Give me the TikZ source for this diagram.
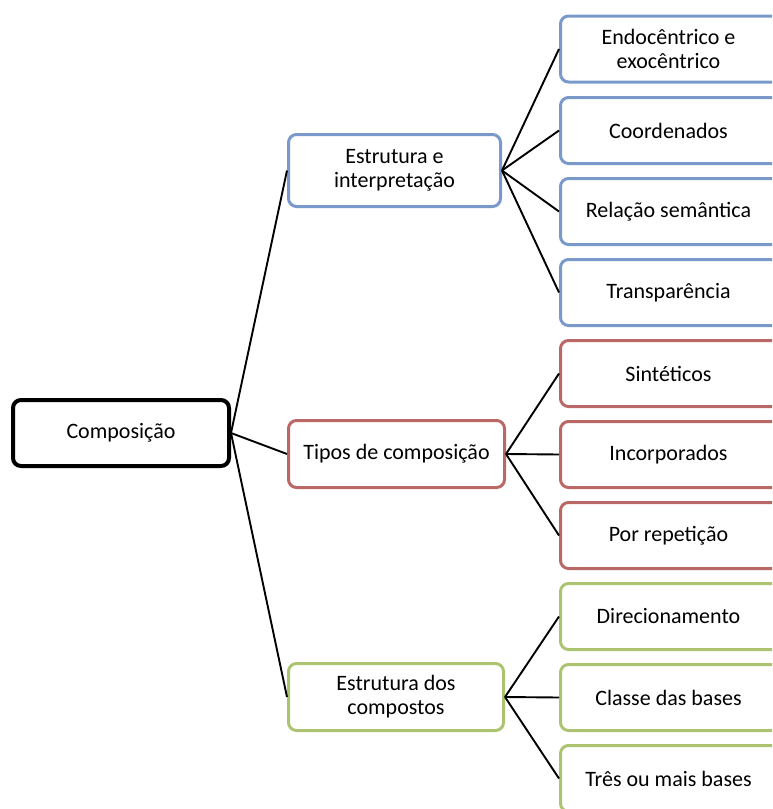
\documentclass[tikz,border=0pt]{standalone}
\usepackage{fontspec}
\setmainfont{Carlito}
\definecolor{bblue}{RGB}{122,153,203}
\definecolor{bred}{RGB}{186,104,102}
\definecolor{bgreen}{RGB}{172,196,112}
\newcommand\pad{\hspace*{40pt}}
\begin{document}
\begin{tikzpicture}[x=1pt,y=-1pt,
  box/.style={draw, fill=white, rounded corners=8pt, line width=3pt, align=center,
    font=\fontsize{22}{24}\selectfont, inner sep=2pt},
  rootbox/.style={box, draw=black, line width=4pt, minimum width=216pt, minimum height=66pt},
  lone/.style={box, minimum width=212pt, minimum height=67pt},
  ltwo/.style={box, anchor=west, minimum width=256pt, minimum height=66pt},
  link/.style={line width=1.9pt, black}]
\useasboundingbox (0,0) rectangle (772,809);
\clip (0,0) rectangle (772,809);
\node[rootbox] (root) at (121,433) {Composição};
\node[lone, draw=bblue, minimum height=72pt] (a) at (394.5,170.5) {Estrutura e\\interpretação};
\node[lone, draw=bred, minimum width=216pt] (b) at (396.5,454) {Tipos de composição};
\node[lone, draw=bgreen, minimum width=215pt] (c) at (396,697) {Estrutura dos\\compostos};
\node[ltwo, draw=bblue] (a1) at (559,49) {Endocêntrico e\pad\\exocêntrico\pad};
\node[ltwo, draw=bblue] (a2) at (559,130.5) {Coordenados\pad};
\node[ltwo, draw=bblue] (a3) at (559,211.5) {Relação semântica\pad};
\node[ltwo, draw=bblue] (a4) at (559,292.5) {Transparência\pad};
\node[ltwo, draw=bred] (b1) at (559,373.5) {Sintéticos\pad};
\node[ltwo, draw=bred] (b2) at (559,454.5) {Incorporados\pad};
\node[ltwo, draw=bred] (b3) at (559,535.5) {Por repetição\pad};
\node[ltwo, draw=bgreen] (c1) at (559,616.5) {Direcionamento\pad};
\node[ltwo, draw=bgreen] (c2) at (559,697.5) {Classe das bases\pad};
\node[ltwo, draw=bgreen] (c3) at (559,778.5) {Três ou mais bases\pad};
\foreach \t in {a,b,c} \draw[link] (root.east) -- (\t.west);
\foreach \t in {a1,a2,a3,a4} \draw[link] (a.east) -- (\t.west);
\foreach \t in {b1,b2,b3} \draw[link] (b.east) -- (\t.west);
\foreach \t in {c1,c2,c3} \draw[link] (c.east) -- (\t.west);
\end{tikzpicture}
\end{document}
